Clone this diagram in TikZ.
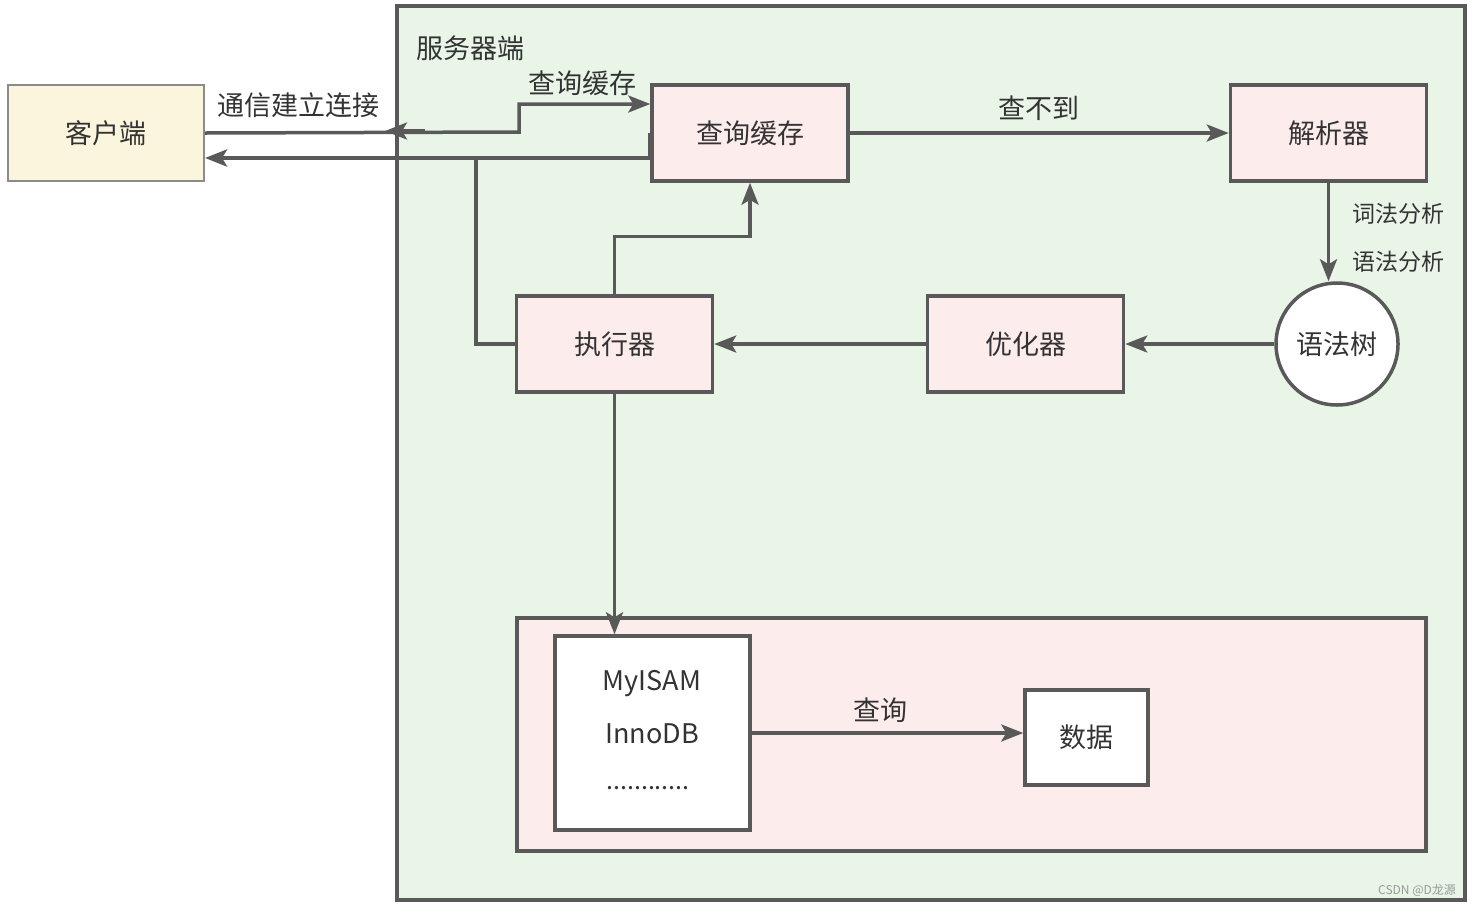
\documentclass[tikz,border=0pt]{standalone}
\usepackage{fontspec}
\setmainfont{Noto Sans CJK SC}
\usetikzlibrary{arrows.meta,calc}
\definecolor{lg}{HTML}{E8F5E7}
\definecolor{pk}{HTML}{FCEDEC}
\definecolor{yl}{HTML}{FAF5DC}
\definecolor{ln}{HTML}{595959}
\definecolor{tx}{HTML}{333333}
\tikzset{
  box/.style={draw=ln, line width=3.5pt, fill=pk, minimum width=196pt, minimum height=96pt, inner sep=0pt, text=tx, font=\fontsize{27}{32}\selectfont},
  wbox/.style={box, fill=white},
  lbl/.style={text=tx, font=\fontsize{27}{32}\selectfont, inner sep=0pt},
  slbl/.style={text=tx, font=\fontsize{23}{28}\selectfont, inner sep=0pt},
  conn/.style={draw=ln, line width=3.5pt},
  arr/.style={conn, -{Stealth[length=22pt,width=17pt,inset=5pt]}},
}
\begin{document}
\begin{tikzpicture}[x=1pt,y=-1pt]
\useasboundingbox (0,0) rectangle (1474,906);
\fill[white] (0,0) rectangle (1474,906);
% server frame
\node[draw=ln, line width=3.5pt, fill=lg, minimum width=1068pt, minimum height=894pt, inner sep=0pt] (server) at (931,453) {};
\node[lbl] (serverlbl) at (470,48) {服务器端};
% engine container
\node[draw=ln, line width=3.5pt, fill=pk, minimum width=909pt, minimum height=233pt, inner sep=0pt] (enginebox) at (971.5,734.5) {};
% nodes
\node[box, fill=yl, draw=ln!70, line width=2pt] (client) at (106,133) {客户端};
\node[box] (cache) at (750,133) {查询缓存};
\node[box] (parser) at (1328.5,133) {解析器};
\node[box] (exec) at (614.5,344) {执行器};
\node[box] (opt) at (1025.5,344) {优化器};
\node[draw=ln, line width=3.5pt, fill=white, circle, minimum size=122pt, inner sep=0pt, text=tx, font=\fontsize{27}{32}\selectfont] (tree) at (1337,344) {语法树};
\node[wbox, minimum width=195pt, minimum height=194pt] (engine) at (652.5,733) {};
\node[lbl] (myisam) at (652,684) {MyISAM};
\node[lbl] (innodb) at (652,734) {InnoDB};
\node[lbl, font=\fontsize{25}{30}\selectfont] (dots) at (648,788) {............};
\node[wbox, minimum width=123pt, minimum height=95pt] (data) at (1086.5,737.5) {数据};
% connectors
\coordinate (bend) at (519,132);
\draw[arr] (client.east) -- (bend) |- ([yshift=29pt]cache.west);
\coordinate (lt1) at (425,131);
\coordinate (lt2) at (385,131);
\draw[arr] (lt1) -- (lt2);
\node[lbl] (l1) at (298,105) {通信建立连接};
\node[lbl] (l2) at (582,83) {查询缓存};
\draw[arr, line width=4.5pt] (cache.west) -- ([yshift=-25pt]cache.west) -- ([yshift=-25pt]client.east);
\coordinate (ret) at (476,344);
\draw[conn] (exec.west) -- (ret) |- ([yshift=-25pt]cache.west);
\draw[arr] (cache.east) -- (parser.west) node[lbl, midway, above=11pt] (l3) {查不到};
\draw[arr] (parser.south) -- (parser.south |- tree.north);
\node[slbl] (l4) at (1398,214) {词法分析};
\node[slbl] (l5) at (1398,262) {语法分析};
\draw[arr] (tree.west) -- (opt.east);
\draw[arr] (opt.west) -- (exec.east);
\draw[arr] (exec.north) -- ++(0,-58) -| (cache.south);
\draw[arr] (exec.south) -- (exec.south |- engine.north);
\draw[arr] (engine.east) -- (data.west |- engine.east);
\node[lbl] (l6) at (880,710) {查询};
\node[text=gray!80, font=\fontsize{12}{14}\selectfont, inner sep=0pt] (wm) at (1417,890) {CSDN @D龙源};
\end{tikzpicture}
\end{document}
